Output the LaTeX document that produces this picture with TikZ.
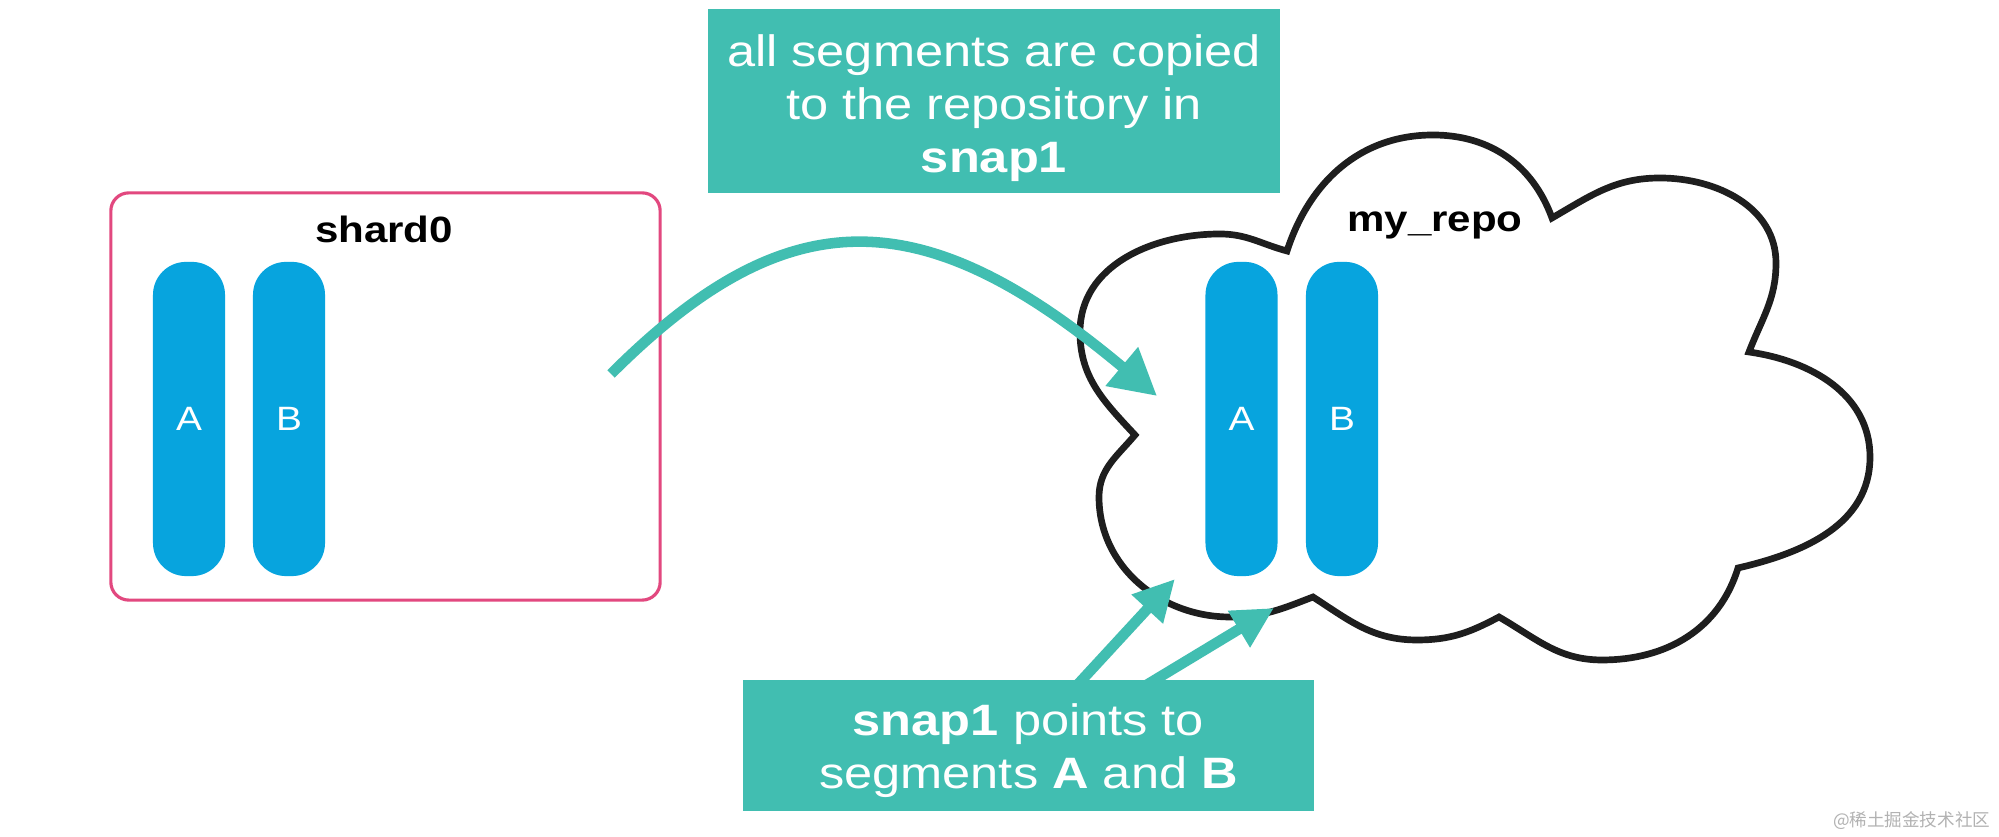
\documentclass[tikz,border=0pt]{standalone}
\usepackage{fontspec}
\setmainfont{Liberation Sans}[FakeStretch=1.15]
\newfontfamily\cjkfont{Noto Sans CJK SC}
\usetikzlibrary{arrows.meta}

\definecolor{snapteal}{HTML}{41BEB1}
\definecolor{segblue}{HTML}{07A4DE}
\definecolor{shardpink}{HTML}{E2487F}
\definecolor{cloudblack}{HTML}{1E1E1E}

\tikzset{
  notebox/.style={fill=snapteal, inner sep=0pt},
  notetext/.style={text=white, inner sep=0pt, align=center, font=\fontsize{12.5}{15.1}\selectfont},
  segbar/.style={fill=segblue, text=white, rounded corners=0.33cm, minimum width=0.72cm, minimum height=3.14cm, inner sep=0pt, font=\fontsize{9.6}{11}\selectfont},
  titlelbl/.style={font=\fontsize{10.4}{12}\selectfont\bfseries, anchor=base, inner sep=0pt},
  copyarrow/.style={draw=snapteal, line width=3pt, -{Triangle[length=0.46cm,width=0.48cm]}},
  pointarrow/.style={draw=snapteal, line width=3pt, -{Triangle[length=0.41cm,width=0.40cm]}},
}

\begin{document}
\begin{tikzpicture}[x=0.01cm, y=0.01cm]

      \useasboundingbox (0,0) rectangle (1999,837);
      \fill[white] (0,0) rectangle (1999,837);

      \node[draw=shardpink, line width=0.9pt, rounded corners=0.18cm, minimum width=5.49cm, minimum height=4.07cm] (shard) at (385.5,440.5) {};
      \node[titlelbl] (shardname) at (384,594) {shard0};
      \node[segbar] (shardA) at (189,418) {A};
      \node[segbar] (shardB) at (289,418) {B};


      \draw[cloudblack, line width=1.9pt, fill=white] (1287,586)
        to[out=72,in=180] (1433,702)
        to[out=0,in=110] (1552,619)
        to[out=30,in=180] (1660,659)
        to[out=0,in=90] (1776,574)
        to[out=-90,in=69] (1749,485)
        to[out=-8,in=90] (1870,380)
        to[out=-90,in=13] (1738,269)
        to[out=-107,in=0] (1602,177)
        to[out=180,in=-30] (1499,220)
        to[out=-152,in=0] (1417,197)
        to[out=180,in=-33] (1313,240)
        to[out=-159,in=0] (1230,220)
        to[out=180,in=-90] (1099,340)
        to[out=90,in=-130] (1135,402)
        to[out=133,in=-90] (1080,505)
        to[out=90,in=180] (1220,603)
        to[out=0,in=165] (1287,586) -- cycle;
      \node[titlelbl] (reponame) at (1435,605) {my\_repo};
      \node[segbar] (repoA) at (1241.5,418) {A};
      \node[segbar] (repoB) at (1342,418) {B};


      \node[notebox, minimum width=5.72cm, minimum height=1.84cm] (copynote) at (994,736) {};
      \node[notetext] (copytext) at (994,729) {all segments are copied\\to the repository in\\\textbf{snap1}};

      \node[notebox, minimum width=5.71cm, minimum height=1.31cm] (pointnote) at (1028.5,91.5) {};
      \node[notetext] (pointtext) at (1028.5,86) {\textbf{snap1} points to\\segments \textbf{A} and \textbf{B}};


      \coordinate (copyfrom) at (611,463);
      \coordinate (copyto) at (1157,441);
      \draw[copyarrow] (copyfrom) .. controls (788,640) and (923,637) .. (copyto);

      \coordinate (pointtoA) at (1175,258);
      \coordinate (pointtoB) at (1274,229);
      \draw[pointarrow] ([xshift=0.485cm,yshift=-0.06cm]pointnote.north) -- (pointtoA);
      \draw[pointarrow] ([xshift=1.175cm,yshift=-0.06cm]pointnote.north) -- (pointtoB);

      \node[font=\cjkfont\fontsize{5}{6}\selectfont, text=black!30, anchor=east, inner sep=0pt] (mark) at (1991,16) {@稀土掘金技术社区};

\end{tikzpicture}
\end{document}
